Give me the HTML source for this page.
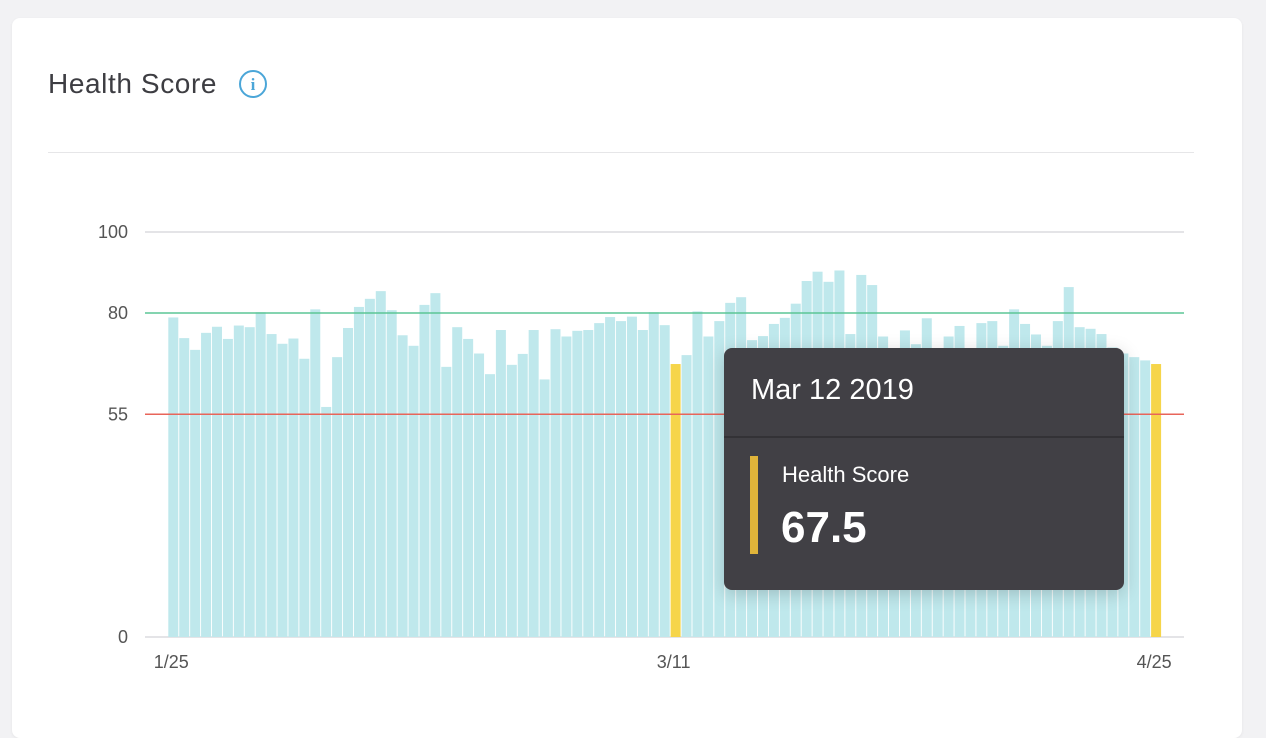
<!DOCTYPE html>
<html><head><meta charset="utf-8"><style>
body{margin:0;width:1266px;height:716px;background:#f2f2f4;font-family:"Liberation Sans",sans-serif;overflow:hidden;position:relative}
.card{position:absolute;left:12px;top:18px;width:1230px;height:720px;background:#fff;border-radius:8px;box-shadow:0 1px 3px rgba(0,0,0,.06)}
.title{position:absolute;left:48px;top:68px;font-size:28px;letter-spacing:0.6px;color:#3d3d42}
.info{position:absolute;left:239px;top:70px;width:24px;height:24px;border:2px solid #4ba6d8;border-radius:50%;color:#4ba6d8;font-size:17px;text-align:center;line-height:25px;font-weight:bold;font-family:"Liberation Serif",serif}
.divider{position:absolute;left:48px;top:152px;width:1146px;height:1px;background:#e6e6e8}
.tip{position:absolute;left:724px;top:348px;width:400px;height:242px;background:#414045;border-radius:8px;box-shadow:0 4px 18px rgba(0,0,0,.18);color:#fff}
</style></head><body>
<div class="card"></div>
<div class="title">Health Score</div>
<div class="info">i</div>
<div class="divider"></div>
<svg id="chart" width="1266" height="716" style="position:absolute;left:0;top:0"></svg>
<div class="tip">
  <div style="position:absolute;left:27px;top:26px;font-size:29px">Mar 12 2019</div>
  <div style="position:absolute;left:0;top:88px;width:400px;height:2px;background:#333236"></div>
  <div style="position:absolute;left:26px;top:108px;width:8px;height:98px;background:#e0b43a"></div>
  <div style="position:absolute;left:58px;top:114px;font-size:22px">Health Score</div>
  <div style="position:absolute;left:57px;top:155px;font-size:44px;font-weight:bold">67.5</div>
</div>
<script>
const values=[78.9,73.8,70.9,75.1,76.6,73.6,76.9,76.5,80.2,74.8,72.4,73.7,68.7,80.9,56.8,69.1,76.3,81.5,83.5,85.4,80.7,74.5,71.9,82.0,84.9,66.7,76.5,73.6,70.0,64.9,75.8,67.2,69.9,75.8,63.6,76.0,74.2,75.6,75.8,77.5,79.0,78.0,79.1,75.8,80.2,77.0,67.4,69.6,80.4,74.2,78.0,82.5,83.9,73.3,74.3,77.3,78.8,82.3,87.9,90.2,87.7,90.5,74.8,89.4,86.9,74.2,70.0,75.7,72.3,78.7,70.0,74.2,76.8,70.0,77.5,78.0,71.9,80.9,77.3,74.7,71.9,78.0,86.4,76.5,76.1,74.8,71.5,70.0,69.1,68.3,67.4];
const highlighted=[46,90];
const yTicks=[0,55,80,100];
const xTickIdx=[0,46,90];
const xTickLabels=["1/25","3/11","4/25"];
const thresholds=[{v:80,c:"#5cc595",n:"target-line"},{v:55,c:"#e8655a",n:"warning-line"}];
const svg=document.getElementById('chart');const NS="http://www.w3.org/2000/svg";
const x0=168.3,pitch=10.92,bw=10;
const y=v=>637-v*4.05;
const xc=i=>x0+i*pitch+bw/2;
function mk(t,a){const e=document.createElementNS(NS,t);for(const k in a)e.setAttribute(k,a[k]);svg.appendChild(e);return e;}
[0,100].forEach(v=>{const l=mk('line',{x1:145,x2:1184,y1:y(v),y2:y(v),stroke:'#dcdcdf','stroke-width':1.5});

});
yTicks.forEach(v=>{const t=mk('text',{x:128,y:y(v)+6,'text-anchor':'end','font-size':18,fill:'#555','font-family':'Liberation Sans, sans-serif'});t.textContent=v;

});
values.forEach((v,i)=>{const hl=highlighted.includes(i);const r=mk('rect',{x:x0+i*pitch,y:y(v),width:bw,height:v*4.05,fill:hl?'#f6d54a':'#bfe8ec'});

});
thresholds.forEach(th=>{const l=mk('line',{x1:145,x2:1184,y1:y(th.v),y2:y(th.v),stroke:th.c,'stroke-width':1.6});

});
xTickIdx.forEach((i,k)=>{const t=mk('text',{x:xc(i)-2,y:668,'text-anchor':'middle','font-size':18,fill:'#555','font-family':'Liberation Sans, sans-serif'});t.textContent=xTickLabels[k];

});
</script>
</body></html>
